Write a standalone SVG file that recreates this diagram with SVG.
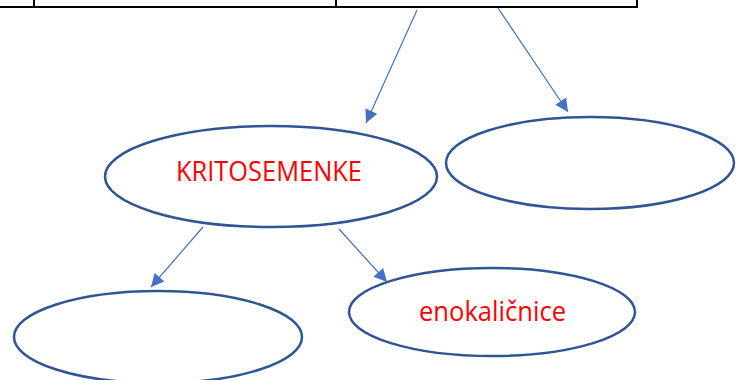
<svg xmlns="http://www.w3.org/2000/svg" width="744" height="380" viewBox="0 0 744 380">
<style>
.tbl{stroke:#000;stroke-width:2;fill:none}
.node{fill:#fff;stroke:#2F5597;stroke-width:2.5}
.lbl{font-family:"Open Sans","Liberation Sans",sans-serif;font-size:27px;fill:#FF0000;text-anchor:middle}
.conn{stroke:#4472C4;stroke-width:1.2;fill:none;marker-end:url(#ah)}
</style>
<defs>
<marker id="ah" viewBox="0 0 10 10" refX="10" refY="5" markerUnits="userSpaceOnUse" markerWidth="15" markerHeight="13" orient="auto">
<path d="M0,0 L10,5 L0,10 z" fill="#4472C4"/>
</marker>
</defs>
<g id="table">
<line class="tbl" x1="0" y1="7" x2="638" y2="7"/>
<line class="tbl" x1="34" y1="0" x2="34" y2="7"/>
<line class="tbl" x1="336" y1="0" x2="336" y2="7"/>
<line class="tbl" x1="637" y1="0" x2="637" y2="8"/>
</g>
<g id="connectors">
<line class="conn" x1="417" y1="10" x2="366" y2="123"/>
<line class="conn" x1="498" y1="8" x2="568" y2="112"/>
<line class="conn" x1="203" y1="227" x2="151" y2="287"/>
<line class="conn" x1="339" y1="229" x2="387" y2="282"/>
</g>
<g id="kritosemenke">
<ellipse class="node" cx="271" cy="176.5" rx="166" ry="50.5"/>
<text class="lbl" x="269" y="180.5" textLength="186" lengthAdjust="spacingAndGlyphs">KRITOSEMENKE</text>
</g>
<g id="right-empty">
<ellipse class="node" cx="590" cy="163" rx="144" ry="46"/>
</g>
<g id="bottom-left-empty">
<ellipse class="node" cx="158" cy="337" rx="144" ry="46"/>
</g>
<g id="enokalicnice">
<ellipse class="node" cx="492" cy="312" rx="143" ry="44"/>
<text class="lbl" x="492.5" y="321" textLength="147" lengthAdjust="spacingAndGlyphs">enokaličnice</text>
</g>
</svg>
